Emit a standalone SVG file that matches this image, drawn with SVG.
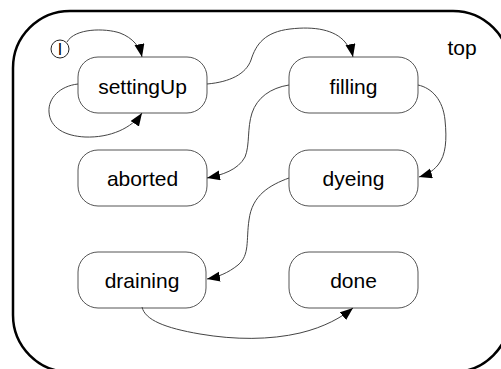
<svg xmlns="http://www.w3.org/2000/svg" width="501" height="369" viewBox="0 0 501 369">
<style>
.node rect{fill:#fff;stroke:#555;stroke-width:1}
.node text,.lbl{font-family:"Liberation Sans",Arial,sans-serif;font-size:21px;fill:#000;text-anchor:middle}
.edges path{fill:none;stroke:#444;stroke-width:1;marker-end:url(#arr)}
</style>
<defs>
<marker id="arr" markerUnits="userSpaceOnUse" markerWidth="14" markerHeight="11" refX="13" refY="5" orient="auto">
<path d="M0,0 L13,5 L0,10 z" fill="#000"/>
</marker>
</defs>
<rect width="501" height="369" fill="#fff"/>
<g id="top">
<rect x="13" y="11" width="497" height="361" rx="57" ry="57" fill="none" stroke="#000" stroke-width="2.5"/>
<text class="lbl" x="462" y="55">top</text>
</g>
<g id="initial">
<circle cx="60" cy="49" r="9" fill="#fff" stroke="#222" stroke-width="1"/>
<text x="60" y="55" font-family="Liberation Sans,Arial,sans-serif" font-size="16" text-anchor="middle">I</text>
</g>
<g id="settingUp" class="node"><rect x="78" y="57" width="129" height="56" rx="20"/><text x="142.5" y="93.5">settingUp</text></g>
<g id="filling" class="node"><rect x="289" y="57" width="129" height="56" rx="20"/><text x="353.5" y="93.5">filling</text></g>
<g id="aborted" class="node"><rect x="78" y="150" width="129" height="56" rx="20"/><text x="142.5" y="186">aborted</text></g>
<g id="dyeing" class="node"><rect x="289" y="150" width="129" height="56" rx="20"/><text x="353.5" y="186">dyeing</text></g>
<g id="draining" class="node"><rect x="78" y="252" width="128" height="56" rx="20"/><text x="142" y="288">draining</text></g>
<g id="done" class="node"><rect x="289" y="252" width="129" height="56" rx="20"/><text x="353.5" y="288">done</text></g>
<g class="edges">
<path d="M67,42 C75,28 105,28 120,33 C133,38 140,47 142,57"/>
<path d="M78,84 C60,86 48,98 49,112 C50,128 65,136 85,137 C110,138 132,128 142,113"/>
<path d="M207,84 C230,82 246,74 251,60 C256,44 265,32 290,29 C315,26 335,30 345,42 C349,47 352,52 353,57"/>
<path d="M289,85 C270,88 257,98 252,113 C247,128 250,145 245,157 C238,170 222,175 207,178"/>
<path d="M418,85 C432,88 443,100 445,120 C447,140 446,155 438,165 C432,172 426,175 419,177"/>
<path d="M289,178 C270,185 252,195 249,220 C246,240 250,255 238,265 C228,273 218,277 207,279"/>
<path d="M142,307 C145,320 165,328 200,334 C235,340 270,340 300,333 C325,327 342,317 353,308"/>
</g>
</svg>
